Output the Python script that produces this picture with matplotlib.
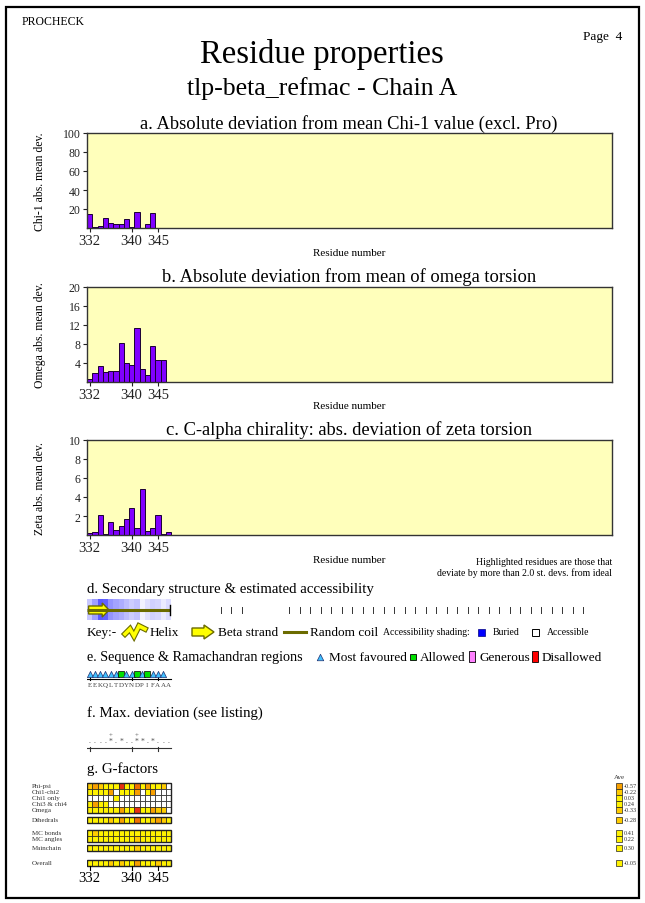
import numpy as np
import matplotlib
matplotlib.use("Agg")
import matplotlib.pyplot as plt
from matplotlib.patches import Rectangle, Polygon

plt.rcParams['font.family'] = ['Liberation Serif', 'DejaVu Serif']

W, H = 645, 904

# ---------------- data ----------------
residues = np.arange(332, 348)
sequence = list("EEKQLTDYNDPIFAAA")
tick_residues = [332, 340, 345]

chi1_dev = [15.0, 0.6, 2.0, 10.5, 5.3, 4.3, 4.3, 10.0, 0.6, 16.5, np.nan, 4.6, 16.3, np.nan, np.nan, np.nan]
omega_dev = [0.7, 1.9, 3.4, 2.1, 2.3, 2.3, 8.3, 4.0, 3.65, 11.4, 2.7, 1.4, 7.6, 4.6, 4.6, np.nan]
zeta_dev = [0.2, 0.3, 2.1, 0.15, 1.35, 0.55, 1.0, 1.7, 2.85, 0.75, 4.8, 0.4, 0.75, 2.1, 0.07, 0.28]

# relative accessibility (0 = buried, 1 = accessible)
accessibility = [0.78, 0.62, 0.35, 0.38, 0.58, 0.64, 0.68, 0.74, 0.80, 0.76, 0.95, 0.88, 0.82, 0.84, 0.92, 0.86]
strand_span = (332, 335)
coil_span = (332, 347)
unassigned_marks = [357, 359, 361] + [370, 372, 374, 376, 378, 380, 382, 384, 386, 388, 390, 392, 394, 396,
                                      398, 400, 402, 404, 406, 408, 410, 412, 414, 416, 418, 420, 422, 424, 426]

# Ramachandran region per residue: 'core', 'allowed', 'generous', 'disallowed', or None
rama_region = ['core', 'core', 'core', 'core', 'core', 'core', 'allowed', 'core', 'core', 'allowed',
               'core', 'allowed', 'core', 'core', 'core', None]

# max-deviation symbols per residue
maxdev_marks = ['.', '.', '.', '.', '+*', '.', '*', '.', '.', '+*', '*', '.', '*', '.', '.', '.']

# G-factors per residue (nan = not applicable)
n = np.nan
gf_labels = ['Phi-psi', 'Chi1-chi2', 'Chi1 only', 'Chi3 & chi4', 'Omega',
             'Dihedrals', 'MC bonds', 'MC angles', 'Mainchain', 'Overall']
gf_values = [
    [-0.3, -0.8, -0.3, 0.3, 0.3, 0.3, -2.0, 0.3, 0.3, -1.3, 0.3, -0.8, 0.3, 0.3, -0.3, n],
    [0.3, 0.3, 0.3, 0.3, -0.8, n, 0.3, 0.3, 0.3, -0.8, n, 0.3, -0.8, n, n, n],
    [n, n, n, n, n, 0.3, n, n, n, n, n, n, n, n, n, n],
    [0.3, -0.8, 0.3, 0.3, n, n, n, n, n, n, n, n, n, n, n, n],
    [0.3, 0.3, 0.3, 0.3, 0.3, 0.3, -0.8, 0.3, 0.3, -2.0, 0.3, 0.3, -0.8, -0.3, -0.3, n],
    [0.3, 0.3, 0.3, 0.3, -0.3, 0.3, -0.8, 0.3, 0.3, -1.3, 0.3, 0.3, -0.3, -0.8, -0.3, 0.3],
    [0.3, -0.3, 0.3, 0.3, 0.3, 0.3, 0.3, 0.3, 0.3, 0.3, 0.3, 0.3, 0.3, 0.3, 0.3, 0.3],
    [0.3, 0.3, 0.3, 0.3, 0.3, 0.3, 0.3, 0.3, 0.3, -0.3, 0.3, 0.3, 0.3, 0.3, 0.3, 0.3],
    [0.3, 0.3, 0.3, 0.3, 0.3, 0.3, 0.3, 0.3, 0.3, -0.3, 0.3, 0.3, 0.3, 0.3, 0.3, 0.3],
    [0.3, 0.3, 0.3, 0.3, -0.3, 0.3, -0.3, 0.3, 0.3, -0.8, 0.3, 0.3, 0.3, -0.3, 0.3, 0.3],
]
gf_averages = [-0.57, -0.22, 0.03, 0.24, -0.33, -0.28, 0.41, 0.22, 0.30, -0.05]

# ---------------- helpers ----------------
X_LO, X_HI = 331.5, 431.5
BAR_COLOR = '#8000ff'
PANEL_FACE = '#ffffbb'


def add_px_axes(x0, y0, x1, y1):
    return fig.add_axes([x0 / W, 1 - y1 / H, (x1 - x0) / W, (y1 - y0) / H])


def gf_color(v):
    if np.isnan(v):
        return 'white'
    if v >= -0.1:
        return '#fff200'
    if v >= -0.5:
        return '#ffcc00'
    if v >= -1.0:
        return '#f8a000'
    if v >= -1.5:
        return '#f07000'
    return '#e83010'


def access_color(a):
    return (a, a, 1.0)


fig = plt.figure(figsize=(W / 100, H / 100), dpi=100)
page = fig.add_axes([0, 0, 1, 1])
page.set_xlim(0, W)
page.set_ylim(H, 0)
page.axis('off')

page.add_patch(Rectangle((6, 8), 633, 891, fill=False, lw=1.6, ec='black'))
page.text(22, 22, 'PROCHECK', fontsize=8.5, va='center')
page.text(622, 37, 'Page  4', fontsize=9.5, ha='right', va='center')
page.text(322, 55, 'Residue properties', fontsize=23.5, ha='center', va='center')
page.text(322, 89, 'tlp-beta_refmac - Chain A', fontsize=18.5, ha='center', va='center')

# ---------------- bar panels a-c ----------------
panels = [
    (134, 229, chi1_dev, 100, [20, 40, 60, 80, 100], 'Chi-1 abs. mean dev.',
     'a. Absolute deviation from mean Chi-1 value (excl. Pro)', 124, 253),
    (288, 383, omega_dev, 20, [4, 8, 12, 16, 20], 'Omega abs. mean dev.',
     'b. Absolute deviation from mean of omega torsion', 277, 407),
    (441, 536, zeta_dev, 10, [2, 4, 6, 8, 10], 'Zeta abs. mean dev.',
     'c. C-alpha chirality: abs. deviation of zeta torsion', 430, 561),
]
for top, bottom, vals, ymax, yt, ylab, title, title_y, xlab_y in panels:
    ax = add_px_axes(87, top, 612, bottom)
    ax.set_facecolor(PANEL_FACE)
    ax.bar(residues, vals, width=1.0, color=BAR_COLOR, edgecolor='#1a0033', linewidth=0.7)
    ax.set_xlim(X_LO, X_HI)
    ax.set_ylim(0, ymax)
    ax.set_yticks(yt)
    ax.set_xticks(tick_residues)
    ax.tick_params(axis='y', labelsize=8.5, length=3, width=0.8, pad=1.5, colors='#222222')
    ax.tick_params(axis='x', labelsize=10.5, length=3, width=0.8, pad=1, colors='#222222')
    for s in ax.spines.values():
        s.set_color('#333333')
        s.set_linewidth(1.0)
    page.text(40, (top + bottom) / 2, ylab, rotation=90, fontsize=8.5, ha='center', va='center')
    page.text(349, title_y, title, fontsize=13.3, ha='center', va='center')
    page.text(349, xlab_y, 'Residue number', fontsize=8, ha='center', va='center')

page.text(612, 563, 'Highlighted residues are those that', fontsize=7, ha='right', va='center')
page.text(612, 573, 'deviate by more than 2.0 st. devs. from ideal', fontsize=7, ha='right', va='center')

# ---------------- tracks d-g (x in residues, y in page pixels) ----------------
trk = add_px_axes(87, 580, 612, 895)
trk.set_xlim(X_LO, X_HI)
trk.set_ylim(895, 580)
trk.axis('off')
trk.patch.set_alpha(0)

# d. secondary structure & accessibility
page.text(87, 590, 'd. Secondary structure & estimated accessibility', fontsize=10.7, va='center')
for r, a in zip(residues, accessibility):
    trk.add_patch(Rectangle((r - 0.5, 600), 1, 21, color=access_color(a), lw=0))
trk.plot([coil_span[0] - 0.5, coil_span[1] + 0.4], [611, 611], color='#6b6b00', lw=2.2,
         solid_capstyle='butt')
trk.plot([coil_span[1] + 0.4] * 2, [606, 616], color='black', lw=1)
s0, s1 = strand_span[0] - 0.2, strand_span[1] + 0.7
trk.add_patch(Polygon([(s0, 607), (s1 - 1.3, 607), (s1 - 1.3, 604), (s1, 611),
                       (s1 - 1.3, 618), (s1 - 1.3, 615), (s0, 615)],
                      closed=True, fc='#ffff00', ec='#6b6b00', lw=1))
for r in unassigned_marks:
    trk.plot([r, r], [608, 614], color='#333333', lw=0.7)

# key line
page.text(87, 633, 'Key:-', fontsize=9.5, va='center')
helix = [(125, 635), (130, 630), (134, 637), (139, 627), (145, 630)]
page.plot(*zip(*helix), color='#6b6b00', lw=4.2, solid_joinstyle='miter')
page.plot(*zip(*helix), color='#ffff00', lw=2.6, solid_joinstyle='miter')
page.text(150, 633, 'Helix', fontsize=9.5, va='center')
page.add_patch(Polygon([(192, 629), (204, 629), (204, 626), (214, 633), (204, 640), (204, 637), (192, 637)],
                       closed=True, fc='#ffff00', ec='#6b6b00', lw=1))
page.text(218, 633, 'Beta strand', fontsize=9.5, va='center')
page.plot([284, 306], [633, 633], color='#6b6b00', lw=2.2)
page.text(310, 633, 'Random coil', fontsize=9.5, va='center')
page.text(383, 633, 'Accessibility shading:', fontsize=7, va='center')
page.add_patch(Rectangle((478, 630), 7, 7, fc='#0000ff', ec='#000080', lw=0.5))
page.text(493, 633, 'Buried', fontsize=7, va='center')
page.add_patch(Rectangle((532, 630), 7, 7, fc='white', ec='black', lw=0.7))
page.text(547, 633, 'Accessible', fontsize=7, va='center')

# e. sequence & Ramachandran regions
page.text(87, 658, 'e. Sequence & Ramachandran regions', fontsize=10.2, va='center')
page.scatter([320], [658], marker='^', s=22, c='#40c0ff', edgecolors='#203070', linewidths=0.5)
page.text(329, 658, 'Most favoured', fontsize=9.5, va='center')
page.add_patch(Rectangle((410, 655), 6, 6, fc='#00e000', ec='black', lw=0.6))
page.text(420, 658, 'Allowed', fontsize=9.5, va='center')
page.add_patch(Rectangle((469, 652), 6, 11, fc='#ff80ff', ec='black', lw=0.6))
page.text(479, 658, 'Generous', fontsize=9.5, va='center')
page.add_patch(Rectangle((532, 652), 6, 11, fc='#ff0000', ec='black', lw=0.6))
page.text(542, 658, 'Disallowed', fontsize=9.5, va='center')

region_style = {'core': ('^', '#40c0ff', 20), 'allowed': ('s', '#00e000', 22),
                'generous': ('s', '#ff80ff', 22), 'disallowed': ('s', '#ff0000', 22)}
for r, reg in zip(residues, rama_region):
    if reg is None:
        continue
    m, c, s = region_style[reg]
    trk.scatter([r], [675], marker=m, s=s, c=c, edgecolors='#203070' if m == '^' else 'black',
                linewidths=0.5, zorder=3)
trk.plot([X_LO, coil_span[1] + 0.5], [679.5, 679.5], color='black', lw=0.8)
for r in tick_residues:
    trk.plot([r, r], [677, 681], color='black', lw=0.8)
for r, aa in zip(residues, sequence):
    trk.text(r, 686, aa, fontsize=5, ha='center', va='center', color='#444444')

# f. max deviation
page.text(87, 713, 'f. Max. deviation (see listing)', fontsize=10.7, va='center')
for r, mk in zip(residues, maxdev_marks):
    if '+' in mk:
        trk.text(r, 736, '+', fontsize=5, ha='center', va='center', color='#555555')
    sym = mk.replace('+', '')
    trk.text(r, 742 if sym == '*' else 741, sym, fontsize=5.5, ha='center', va='center', color='#555555')
trk.plot([X_LO, coil_span[1] + 0.5], [749, 749], color='#333333', lw=0.8)
for r in tick_residues:
    trk.plot([r, r], [747.5, 752], color='#333333', lw=0.8)

# g. G-factors
page.text(87, 769, 'g. G-factors', fontsize=10.7, va='center')
row_tops = [784, 790, 796, 802, 808, 818, 831, 837, 846, 861]
row_h = 6
blocks = [[0, 1, 2, 3, 4], [5], [6, 7], [8], [9]]
for i, (lab, vals, top) in enumerate(zip(gf_labels, gf_values, row_tops)):
    for r, v in zip(residues, vals):
        trk.add_patch(Rectangle((r - 0.5, top), 1, row_h, fc=gf_color(v), ec='#222222', lw=0.5))
    page.text(32, top + row_h / 2, lab, fontsize=5, va='center', color='#333333')
    page.add_patch(Rectangle((616, top), 6, row_h, fc=gf_color(gf_averages[i]), ec='#222222', lw=0.5))
    page.text(624, top + row_h / 2, f'{gf_averages[i]:.2f}', fontsize=4.5, va='center', color='#333333')
for blk in blocks:
    t = row_tops[blk[0]]
    b = row_tops[blk[-1]] + row_h
    trk.add_patch(Rectangle((residues[0] - 0.5, t), len(residues), b - t, fill=False, ec='#222222', lw=1.0))
page.text(619, 778, 'Ave', fontsize=5, ha='center', va='center', color='#333333')
for r in tick_residues:
    trk.plot([r, r], [867, 871], color='black', lw=0.8)
    trk.text(r, 879, str(r), fontsize=10.5, ha='center', va='center')

fig.savefig('out.png', dpi=100)
